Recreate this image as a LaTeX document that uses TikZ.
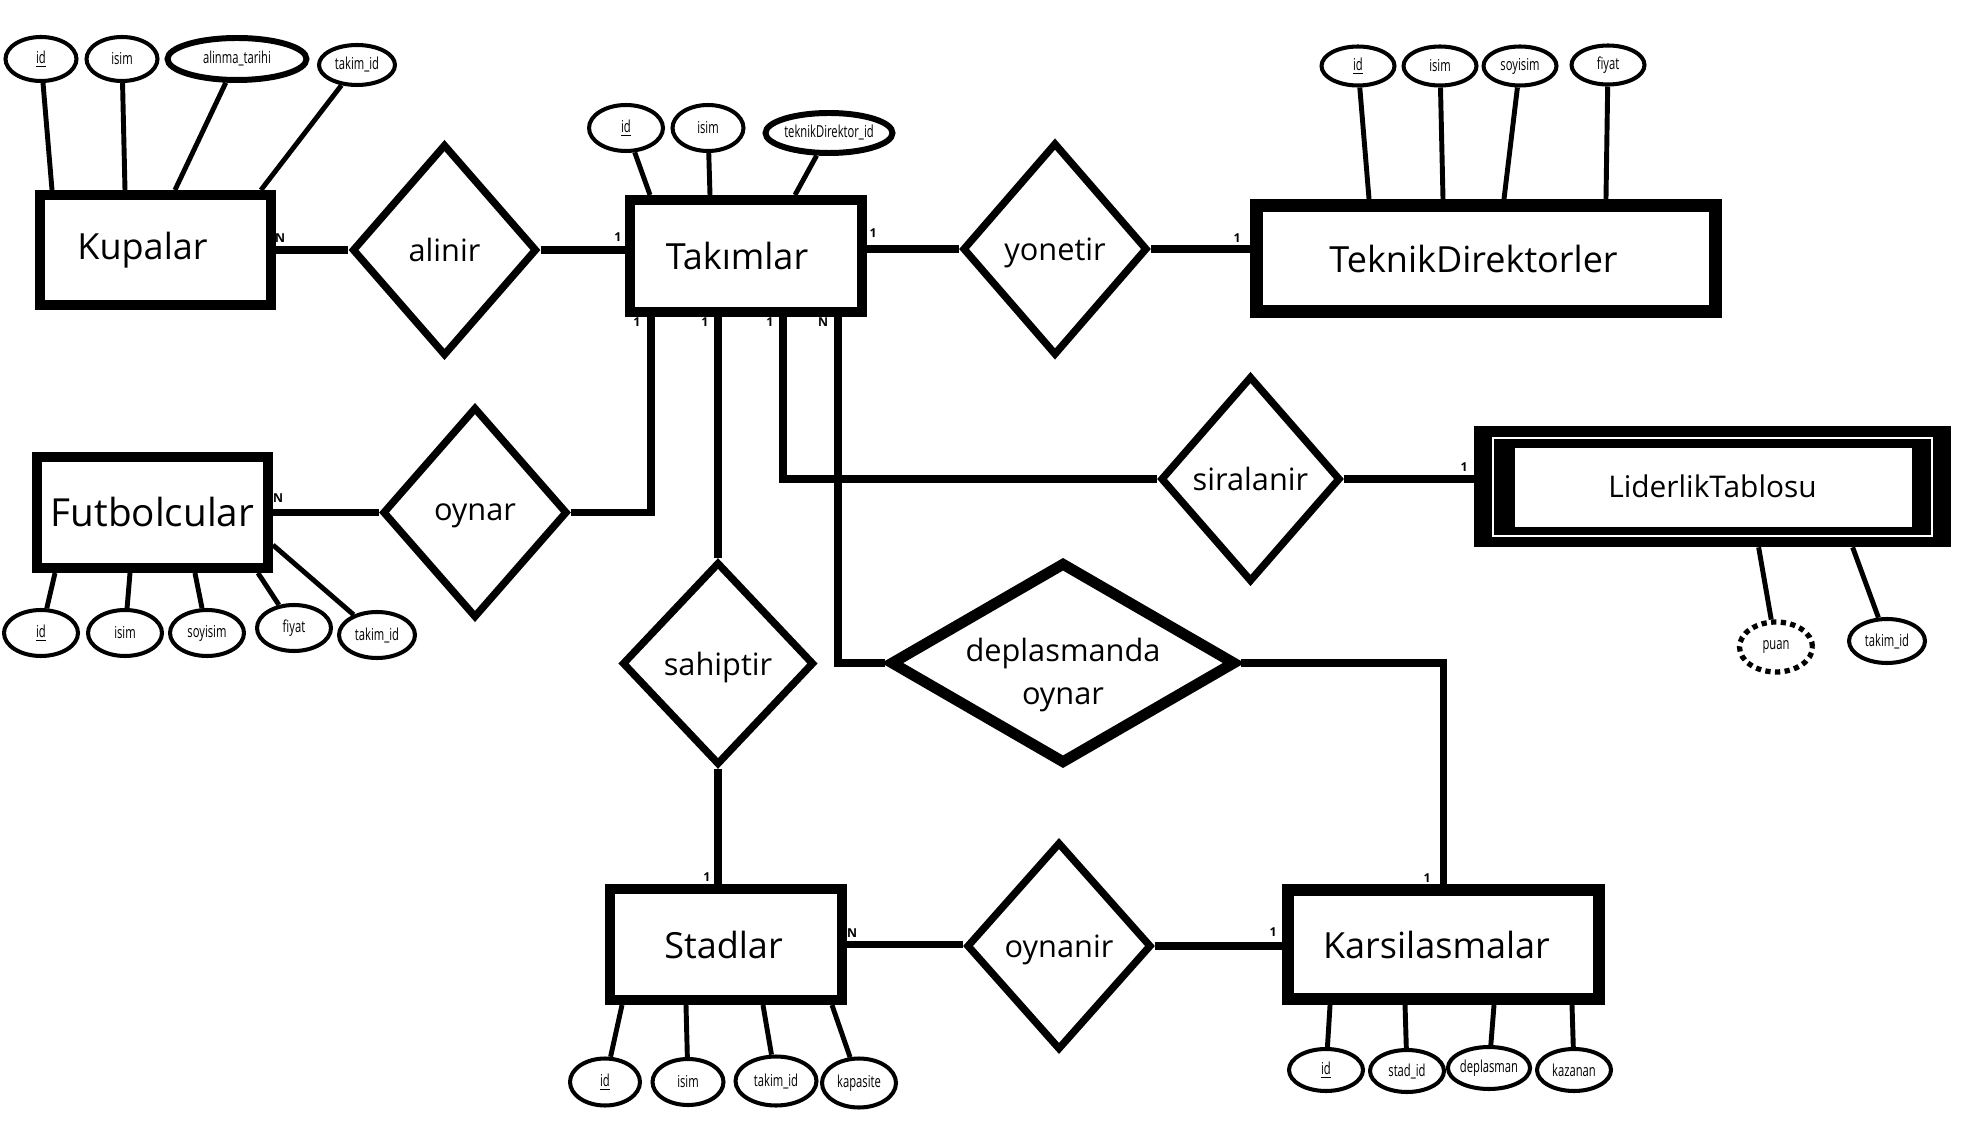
\documentclass[tikz,border=0pt]{standalone}
\usepackage{fontspec}
\setmainfont{Open Sans}
\newfontfamily\attrfamily[FakeStretch=0.68]{Open Sans}
\usepackage{tikz}
\usetikzlibrary{shapes.geometric}

\begin{document}
\begin{tikzpicture}[x=0.02cm, y=-0.02cm,
    entity/.style={draw, rectangle, line width=5.7pt, inner sep=0pt, minimum width=4.62cm, minimum height=2.2cm, font=\fontsize{20.5}{24}\selectfont},
    textleft/.style={execute at end node={\hspace*{#1}}},
    relation/.style={draw, diamond, line width=4.2pt, inner sep=0pt, aspect=1, minimum width=3.7cm, minimum height=4.22cm, text depth=0pt, font=\fontsize{17.5}{25}\selectfont},
    attrib/.style={draw, ellipse, line width=2.3pt, inner sep=0pt, minimum width=1.46cm, minimum height=0.88cm, font=\attrfamily\fontsize{9.4}{11}\selectfont},
    leader/.style={rectangle, fill=black, inner sep=0pt, minimum width=9.54cm, minimum height=2.42cm, font=\fontsize{17}{20}\selectfont,
        path picture={
            \draw [white, line width=1.2pt] ([shift={(0.37cm,0.22cm)}]path picture bounding box.south west) rectangle ([shift={(-0.38cm,-0.24cm)}]path picture bounding box.north east);
            \fill [white] ([shift={(0.82cm,0.4cm)}]path picture bounding box.south west) rectangle ([shift={(-0.78cm,-0.44cm)}]path picture bounding box.north east);
        }},
    link/.style={line width=4.5pt},
    attrlink/.style={line width=2.8pt},
    card/.style={inner sep=0pt, font=\bfseries\fontsize{7}{8}\selectfont}]

    \useasboundingbox (0,0) rectangle (1974,1148);

    % Entities
    \node [entity, textleft=0.52cm]                  (kupalar)     at (155.5,250)  {Kupalar};
    \node [entity, textleft=0.36cm, minimum width=4.64cm, minimum height=2.24cm] (takimlar) at (746,256) {Takımlar};
    \node [entity, textleft=0.5cm, line width=7.4pt, minimum width=9.18cm, minimum height=2.12cm] (teknikdir) at (1486,258.5) {TeknikDirektorler};
    \node [entity, minimum height=2.22cm, font=\fontsize{22}{26}\selectfont] (futbolcular) at (152.5,512.5) {Futbolcular};
    \node [entity, textleft=0.1cm, minimum width=4.64cm, minimum height=2.22cm] (stadlar) at (726,944.5) {Stadlar};
    \node [entity, textleft=0.28cm, line width=6.8pt, minimum width=6.22cm, minimum height=2.18cm] (karsilasma) at (1443.5,944.5) {Karsilasmalar};
    \node [leader]                                   (lider)       at (1712.5,486.5) {LiderlikTablosu};

    % Relations
    \node [relation, minimum height=4.24cm]          (alinir)      at (444.5,250)  {alinir};
    \node [relation, minimum height=4.26cm]          (yonetir)     at (1055,249)   {yonetir};
    \node [relation]                                 (oynar)       at (475,512.5)  {oynar};
    \node [relation, minimum width=3.6cm, minimum height=4.12cm] (siralanir) at (1250.5,479) {siralanir};
    \node [relation, minimum width=3.84cm, minimum height=4.06cm] (sahiptir) at (718,663.5) {sahiptir};
    \node [relation, minimum height=4.16cm]          (oynanir)     at (1059,946)   {oynanir};
    \node [relation, line width=6.2pt, aspect=1.75, minimum width=6.92cm, minimum height=4.04cm] (deplasman) at (1063,663) {};
    \node [align=center, font=\fontsize{17.5}{25}\selectfont] (deplasmanText) at (1063,675) {deplasmanda\\oynar};

    % Attributes
    \node [attrib, minimum width=1.42cm]             (kupId)       at (41,59)      {\underline{id}};
    \node [attrib, minimum width=1.42cm]             (kupIsim)     at (122,59)     {isim};
    \node [attrib, line width=3.4pt, minimum width=2.78cm, minimum height=0.84cm] (kupTarih) at (237,59) {alinma\_tarihi};
    \node [attrib, minimum width=1.52cm, minimum height=0.8cm] (kupTakim) at (357,65) {takim\_id};

    \node [attrib, minimum width=1.48cm, minimum height=0.92cm] (takId)   at (626,128) {\underline{id}};
    \node [attrib, minimum width=1.42cm, minimum height=0.92cm] (takIsim) at (708,128) {isim};
    \node [attrib, line width=3.4pt, minimum width=2.54cm, minimum height=0.8cm] (takTd) at (829,133) {teknikDirektor\_id};

    \node [attrib, minimum height=0.78cm]            (tdId)        at (1358,66)    {\underline{id}};
    \node [attrib, minimum height=0.78cm]            (tdIsim)      at (1440,66)    {isim};
    \node [attrib, minimum height=0.78cm]            (tdSoyisim)   at (1520,66)    {soyisim};
    \node [attrib, minimum height=0.78cm]            (tdFiyat)     at (1608,65)    {fiyat};

    \node [attrib, minimum width=1.48cm, minimum height=0.92cm] (futId)      at (41,633)  {\underline{id}};
    \node [attrib, minimum width=1.48cm, minimum height=0.92cm] (futIsim)    at (125,633) {isim};
    \node [attrib, minimum width=1.48cm, minimum height=0.92cm] (futSoyisim) at (207,633) {soyisim};
    \node [attrib, minimum width=1.48cm, minimum height=0.92cm] (futFiyat)   at (294,628) {fiyat};
    \node [attrib, minimum width=1.52cm, minimum height=0.92cm] (futTakim)   at (377,635) {takim\_id};

    \node [attrib, minimum width=1.4cm, minimum height=0.94cm]  (stId)       at (605,1082) {\underline{id}};
    \node [attrib, minimum width=1.42cm, minimum height=0.92cm] (stIsim)     at (688,1082) {isim};
    \node [attrib, minimum width=1.62cm, minimum height=0.98cm] (stTakim)    at (776,1081) {takim\_id};
    \node [attrib, minimum width=1.48cm, minimum height=0.98cm] (stKapasite) at (859,1083) {kapasite};

    \node [attrib, minimum width=1.48cm, minimum height=0.84cm] (krId)        at (1326,1070) {\underline{id}};
    \node [attrib, minimum width=1.48cm, minimum height=0.84cm] (krStad)      at (1407,1071) {stad\_id};
    \node [attrib, minimum width=1.48cm, minimum height=0.84cm] (krDeplasman) at (1489,1068) {deplasman};
    \node [attrib, minimum width=1.48cm, minimum height=0.84cm] (krKazanan)   at (1574,1070) {kazanan};

    \node [attrib, line width=3pt, dash pattern=on 3pt off 2.5pt, minimum height=1cm] (ldPuan) at (1776,647) {puan};
    \node [attrib, minimum width=1.52cm]             (ldTakim)     at (1887,641)   {takim\_id};

    % Attribute lines
    \draw [attrlink] (kupId)    -- ([xshift=0.34cm]kupalar.north west);
    \draw [attrlink] (kupIsim)  -- ([xshift=1.8cm]kupalar.north west);
    \draw [attrlink] (kupTarih) -- ([xshift=2.8cm]kupalar.north west);
    \draw [attrlink] (kupTakim) -- ([xshift=4.52cm]kupalar.north west);

    \draw [attrlink] (takId)   -- ([xshift=0.5cm]takimlar.north west);
    \draw [attrlink] (takIsim) -- ([xshift=1.7cm]takimlar.north west);
    \draw [attrlink] (takTd)   -- ([xshift=3.4cm]takimlar.north west);

    \draw [attrlink] (tdId)      -- ([xshift=2.38cm]teknikdir.north west);
    \draw [attrlink] (tdIsim)    -- ([xshift=3.86cm]teknikdir.north west);
    \draw [attrlink] (tdSoyisim) -- ([xshift=5.08cm]teknikdir.north west);
    \draw [attrlink] (tdFiyat)   -- ([xshift=7.12cm]teknikdir.north west);

    \draw [attrlink] (futId)      -- ([xshift=0.46cm]futbolcular.south west);
    \draw [attrlink] (futIsim)    -- ([xshift=1.96cm]futbolcular.south west);
    \draw [attrlink] (futSoyisim) -- ([xshift=3.26cm]futbolcular.south west);
    \draw [attrlink] (futFiyat)   -- ([xshift=4.52cm]futbolcular.south west);
    \draw [attrlink] (futTakim)   -- ([yshift=0.56cm]futbolcular.south east);

    \draw [attrlink] (stId)       -- ([xshift=0.34cm]stadlar.south west);
    \draw [attrlink] (stIsim)     -- ([xshift=1.62cm]stadlar.south west);
    \draw [attrlink] (stTakim)    -- ([xshift=3.16cm]stadlar.south west);
    \draw [attrlink] (stKapasite) -- ([xshift=4.54cm]stadlar.south west);

    \draw [attrlink] (krId)        -- ([xshift=0.96cm]karsilasma.south west);
    \draw [attrlink] (krStad)      -- ([xshift=2.46cm]karsilasma.south west);
    \draw [attrlink] (krDeplasman) -- ([xshift=4.24cm]karsilasma.south west);
    \draw [attrlink] (krKazanan)   -- ([xshift=5.8cm]karsilasma.south west);

    \draw [attrlink] (ldPuan)  -- ([xshift=5.7cm]lider.south west);
    \draw [attrlink] (ldTakim) -- ([xshift=7.58cm]lider.south west);

    % Paths
    \path [link] (kupalar.east)                 edge (kupalar.east -| alinir.west);
    \path [link] (alinir.east)                  edge (alinir.east -| takimlar.west);
    \path [link] (yonetir.west -| takimlar.east) edge (yonetir.west);
    \path [link] (yonetir.east)                 edge (yonetir.east -| teknikdir.west);
    \path [link] (futbolcular.east)             edge (oynar.west);
    \draw [link] (oynar.east) -| ([xshift=0.52cm]takimlar.south west);
    \draw [link] (sahiptir.north |- takimlar.south) -- (sahiptir.north);
    \draw [link] (sahiptir.south) -- (sahiptir.south |- stadlar.north);
    \draw [link] ([xshift=3.16cm]takimlar.south west) |- (siralanir.west);
    \path [link] (siralanir.east)               edge (siralanir.east -| lider.west);
    \draw [link] ([xshift=4.26cm]takimlar.south west) |- (deplasman.west);
    \draw [link] (deplasman.east) -| (karsilasma.north);
    \path [link] (stadlar.east)                 edge (stadlar.east -| oynanir.west);
    \path [link] (oynanir.east)                 edge (oynanir.east -| karsilasma.west);

    % Cardinalities
    \node [card] (cKup)   at (280,238)  {N};
    \node [card] (cTakL)  at (618,237)  {1};
    \node [card] (cTakR)  at (873,233)  {1};
    \node [card] (cTakB1) at (637,322)  {1};
    \node [card] (cTakB2) at (705,322)  {1};
    \node [card] (cTakB3) at (770,322)  {1};
    \node [card] (cTakB4) at (823,322)  {N};
    \node [card] (cTd)    at (1237,238) {1};
    \node [card] (cFut)   at (278,498)  {N};
    \node [card] (cLd)    at (1464,467) {1};
    \node [card] (cStT)   at (707,877)  {1};
    \node [card] (cStR)   at (852,933)  {N};
    \node [card] (cKrL)   at (1273,932) {1};
    \node [card] (cKrT)   at (1427,878) {1};

\end{tikzpicture}
\end{document}
